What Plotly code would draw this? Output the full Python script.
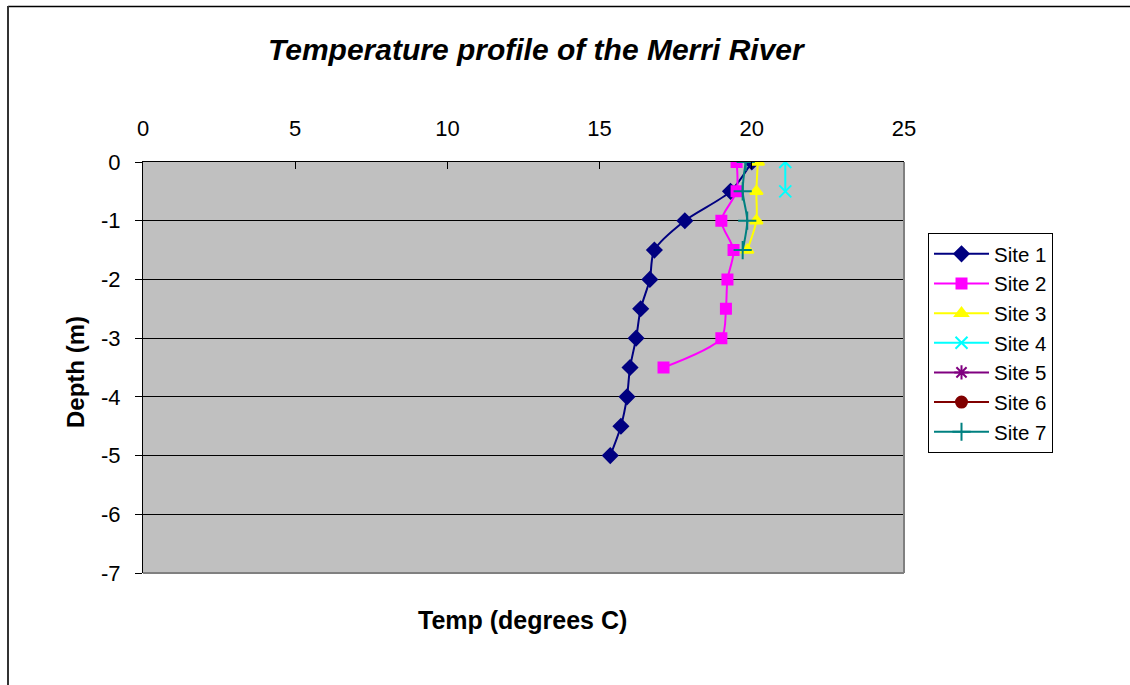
import plotly.graph_objects as go

# Data (temperature in degrees C vs depth in m)
site1_depth = [0, -0.5, -1, -1.5, -2, -2.5, -3, -3.5, -4, -4.5, -5]
site1_temp = [20.0, 19.3, 17.8, 16.8, 16.65, 16.35, 16.2, 16.0, 15.9, 15.7, 15.35]
site2_depth = [0, -0.5, -1, -1.5, -2, -2.5, -3, -3.5]
site2_temp = [19.5, 19.5, 19.0, 19.4, 19.2, 19.15, 19.0, 17.1]
site3_depth = [0, -0.5, -1, -1.5]
site3_temp = [20.2, 20.15, 20.15, 19.85]
site4_depth = [0, -0.5]
site4_temp = [21.1, 21.1]
site5_depth = []
site5_temp = []
site6_depth = []
site6_temp = []
site7_depth = [0, -0.5, -1, -1.5]
site7_temp = [19.8, 19.7, 19.85, 19.7]

x_ticks = [0, 5, 10, 15, 20, 25]
y_ticks = [0, -1, -2, -3, -4, -5, -6, -7]
y_tick_labels = ["0", "-1", "-2", "-3", "-4", "-5", "-6", "-7"]

names = ["Site 1", "Site 2", "Site 3", "Site 4", "Site 5", "Site 6", "Site 7"]
temps = [site1_temp, site2_temp, site3_temp, site4_temp, site5_temp, site6_temp, site7_temp]
depths = [site1_depth, site2_depth, site3_depth, site4_depth, site5_depth, site6_depth, site7_depth]
colors = ["#000080", "#FF00FF", "#FFFF00", "#00FFFF", "#800080", "#800000", "#008080"]
symbols = ["diamond", "square", "triangle-up", "x-thin-open", "asterisk-open", "circle", "cross-thin-open"]
sizes = [11, 10, 11, 12, 12, 11, 13]

fig = go.Figure()
for n, t, d, c, s, sz in zip(names, temps, depths, colors, symbols, sizes):
    fig.add_trace(go.Scatter(
        x=t if t else [None], y=d if d else [None], name=n, mode="lines+markers",
        line=dict(color=c, width=2, shape="spline", smoothing=0.8),
        marker=dict(symbol=s, size=sz, color=c, line=dict(color=c, width=2)),
    ))

L, R, T, B = 143, 904, 162, 573
W, H = 1130, 685
pw, ph = R - L, B - T

def px(x):
    return (x - L) / pw

def py(y):
    return (B - y) / ph

fig.update_layout(
    width=W, height=H,
    margin=dict(l=L, r=W - R, t=T, b=H - B),
    paper_bgcolor="white",
    plot_bgcolor="#C0C0C0",
    font=dict(family="Liberation Sans, Arial, sans-serif", size=22, color="black"),
    showlegend=True,
    legend=dict(
        x=px(928), y=py(233), xanchor="left", yanchor="top",
        bgcolor="white", bordercolor="black", borderwidth=1,
        font=dict(size=20.5), tracegroupgap=0, itemwidth=55,
    ),
    xaxis=dict(
        range=[0, 25], tickvals=x_ticks, side="top",
        ticks="inside", ticklen=7, tickcolor="black",
        showline=True, linecolor="black", linewidth=1,
        showgrid=False, zeroline=False, ticklabelstandoff=16,
    ),
    yaxis=dict(
        range=[-7, 0], tickvals=y_ticks, ticktext=y_tick_labels,
        ticks="outside", ticklen=7, tickcolor="black",
        showline=True, linecolor="black", linewidth=1,
        showgrid=True, gridcolor="black", gridwidth=1,
        zeroline=False, ticklabelstandoff=10,
    ),
    annotations=[
        dict(text="<b><i>Temperature profile of the Merri River</i></b>",
             x=px(537), y=py(49), xref="paper", yref="paper",
             xanchor="center", yanchor="middle",
             showarrow=False, font=dict(size=30)),
        dict(text="<b>Temp (degrees C)</b>",
             x=px(522), y=py(620), xref="paper", yref="paper",
             xanchor="center", yanchor="middle",
             showarrow=False, font=dict(size=25)),
        dict(text="<b>Depth (m)</b>", textangle=-90,
             x=px(75), y=py(372), xref="paper", yref="paper",
             xanchor="center", yanchor="middle",
             showarrow=False, font=dict(size=24)),
    ],
    shapes=[
        # plot area right / bottom border
        dict(type="line", xref="paper", yref="paper", x0=1, x1=1, y0=0, y1=1,
             line=dict(color="#808080", width=2)),
        dict(type="line", xref="paper", yref="paper", x0=0, x1=1, y0=0, y1=0,
             line=dict(color="#808080", width=2)),
        # chart frame (top and left)
        dict(type="line", xref="paper", yref="paper", x0=px(8), x1=px(W + 5),
             y0=py(6.5), y1=py(6.5), line=dict(color="black", width=1.5)),
        dict(type="line", xref="paper", yref="paper", x0=px(8), x1=px(8),
             y0=py(6), y1=py(H + 5), line=dict(color="#333333", width=2)),
    ],
)

fig.write_html("out.html", config={"displayModeBar": False},
               post_script="document.body.style.margin='0px';")
